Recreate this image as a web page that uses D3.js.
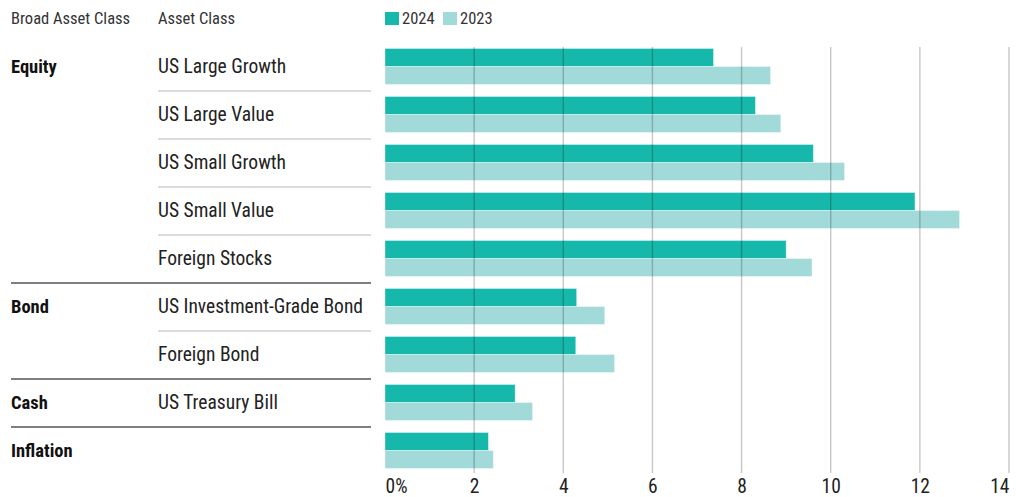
<!DOCTYPE html>
<html>
<head>
<meta charset="utf-8">
<script src="https://cdn.jsdelivr.net/npm/d3@7"></script>
<style>
  html, body { margin: 0; padding: 0; background: #fff; }
  svg { display: block; font-family: "Roboto Condensed", "Liberation Sans Narrow", "DejaVu Sans Condensed", "Roboto", sans-serif; }
</style>
</head>
<body>
<svg id="chart" width="1030" height="497"></svg>
<script>
// Expected returns by asset class, 2024 vs 2023 (%)
const rowKeys = ["US Large Growth", "US Large Value", "US Small Growth", "US Small Value",
  "Foreign Stocks", "US Investment-Grade Bond", "Foreign Bond", "US Treasury Bill", "Inflation"];
const assetLabels = ["US Large Growth", "US Large Value", "US Small Growth", "US Small Value",
  "Foreign Stocks", "US Investment-Grade Bond", "Foreign Bond", "US Treasury Bill", ""];
const broadOfRow = ["Equity", "Equity", "Equity", "Equity", "Equity", "Bond", "Bond", "Cash", "Inflation"];
const seriesNames = ["2024", "2023"];
const values2024 = [7.37, 8.31, 9.61, 11.89, 9.0, 4.30, 4.28, 2.92, 2.32];
const values2023 = [8.65, 8.88, 10.31, 12.89, 9.58, 4.93, 5.15, 3.31, 2.43];
const tickValues = [0, 2, 4, 6, 8, 10, 12, 14];
const seriesColors = ["#15b8aa", "#a2dada"];

const svg = d3.select("#chart");

const x = d3.scaleLinear().domain([0, 14]).range([385, 1009]);
const y = d3.scaleBand().domain(rowKeys).range([42.5, 474.5]);
const ySub = d3.scaleBand().domain(seriesNames).range([6, 42]);
const color = d3.scaleOrdinal().domain(seriesNames).range(seriesColors);

const seriesValues = { "2024": values2024, "2023": values2023 };

// Column headers
const header = svg.append("g").attr("font-size", 16.5).attr("fill", "#333");
header.append("text").attr("x", 11).attr("y", 24).text("Broad Asset Class");
header.append("text").attr("x", 158).attr("y", 24).text("Asset Class");

// Legend
const legend = svg.append("g");
const legendX = [385, 443];
seriesNames.forEach((s, i) => {
  const g = legend.append("g").attr("transform", `translate(${legendX[i]},0)`);
  g.append("rect").attr("x", 0).attr("y", 12).attr("width", 14).attr("height", 13).attr("fill", color(s));
  g.append("text").attr("x", 17).attr("y", 24).attr("font-size", 16.5).attr("fill", "#333").text(s);
});

// Row labels
const labels = svg.append("g");
rowKeys.forEach((k, i) => {
  const cy = y(k) + y.bandwidth() / 2;
  if (i === 0 || broadOfRow[i] !== broadOfRow[i - 1]) {
    labels.append("text").attr("x", 11).attr("y", cy + 6)
      .attr("font-size", 18.5).attr("font-weight", "bold").attr("fill", "#111")
      .text(broadOfRow[i]);
  }
  if (assetLabels[i]) {
    labels.append("text").attr("x", 158).attr("y", cy + 6.5)
      .attr("font-size", 19.5).attr("fill", "#222").text(assetLabels[i]);
  }
});

// Separators between rows (light) and between broad classes (dark)
const seps = svg.append("g");
rowKeys.forEach((k, i) => {
  if (i === 0) return;
  const yy = Math.round(y(k));
  const groupBreak = broadOfRow[i] !== broadOfRow[i - 1];
  seps.append("line")
    .attr("x1", groupBreak ? 11 : 158).attr("x2", 371)
    .attr("y1", yy).attr("y2", yy)
    .attr("stroke", groupBreak ? "#555" : "#cfcfcf")
    .attr("stroke-width", 1.3);
});

// Bars
const rowsG = svg.append("g").selectAll("g").data(rowKeys).join("g")
  .attr("transform", d => `translate(0,${y(d)})`);
rowsG.selectAll("rect")
  .data((d, i) => seriesNames.map(s => ({ s, v: seriesValues[s][i] })))
  .join("rect")
  .attr("x", x(0))
  .attr("y", d => ySub(d.s))
  .attr("width", d => x(d.v) - x(0))
  .attr("height", ySub.bandwidth())
  .attr("fill", d => color(d.s))
  .attr("stroke", "rgba(255,255,255,0.45)")
  .attr("stroke-width", 0.8);

// Tick labels
const axis = d3.axisBottom(x).tickValues(tickValues).tickSize(0)
  .tickFormat(d => d === 0 ? "0%" : d3.format("d")(d));
const axisG = svg.append("g").attr("transform", "translate(0,492.5)").call(axis);
axisG.attr("font-family", null).attr("font-size", null);
axisG.select(".domain").remove();
axisG.selectAll(".tick line").remove();
axisG.selectAll(".tick text")
  .attr("font-size", 19.5)
  .attr("fill", "#222")
  .attr("y", 0)
  .attr("dy", null)
  .attr("text-anchor", d => d === 0 ? "start" : (d === 14 ? "end" : "middle"));

// Gridlines over the bars
svg.append("g").selectAll("line").data(tickValues.filter(d => d > 0)).join("line")
  .attr("x1", d => x(d)).attr("x2", d => x(d))
  .attr("y1", 47).attr("y2", 473)
  .attr("stroke", "rgba(0,0,0,0.22)")
  .attr("stroke-width", 1.4);
</script>
</body>
</html>
